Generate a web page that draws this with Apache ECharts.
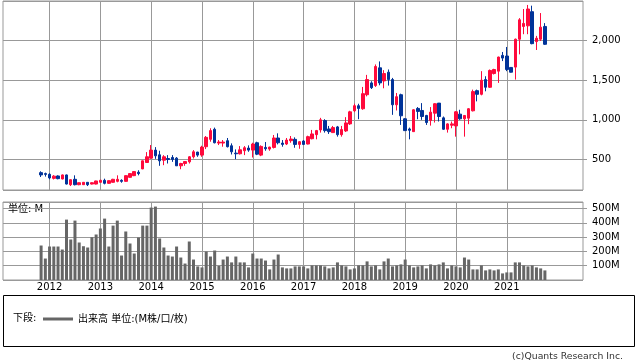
<!DOCTYPE html>
<html><head><meta charset="utf-8">
<script src="https://cdn.jsdelivr.net/npm/echarts@6/dist/echarts.min.js"></script>
<style>html,body{margin:0;padding:0;background:#fff}#c{width:638px;height:362px}</style>
</head><body><div id="c"></div>
<script>
// axis months: Feb 2011 .. Jul 2022 (138 monthly slots); data from Nov 2011 .. Oct 2021
const axisStart = [2011, 2];
const axisMonths = 138;
const dataStart = [2011, 11];
const yearLabels = ['2012','2013','2014','2015','2016','2017','2018','2019','2020','2021'];

const opens = [334,322,313,262,292,254,305,182,250,182,
182,212,190,190,212,237,199,212,224,237,
224,275,296,339,381,462,517,618,559,491,
512,525,517,420,449,470,534,593,555,661,
754,881,707,707,737,673,580,572,610,644,
618,711,555,652,631,652,771,707,695,737,
754,690,733,695,762,813,873,991,885,839,
911,813,860,949,1114,1178,1140,1317,1466,1432,
1656,1491,1601,1508,1190,1317,1013,885,851,1144,
1118,1055,991,1084,1211,1025,881,932,923,1072,
1013,1021,1114,1368,1322,1508,1411,1584,1614,1813,
1805,1661,1665,2017,2178,2186,2364,1987,2017,2178];
const closes = [305,312,267,290,258,305,190,245,182,207,
212,182,207,229,237,199,233,250,250,224,
296,322,347,322,483,534,618,546,483,534,
500,500,420,449,474,534,597,555,656,779,
864,711,720,720,661,597,572,622,648,618,
695,567,665,635,656,771,711,690,745,758,
690,724,690,788,822,864,1000,864,851,902,
813,877,961,1101,1178,1144,1330,1508,1406,1673,
1466,1584,1508,1190,1292,1051,864,868,1127,1106,
1042,966,1097,1203,1042,881,949,949,1101,1013,
1055,1140,1356,1322,1500,1411,1623,1635,1792,1779,
1635,1601,2017,2262,2216,2398,1961,2029,2169,1953];
const lows = [279,284,250,248,250,250,185,165,173,175,
178,165,185,185,208,186,195,208,212,207,
220,270,290,300,378,458,510,508,420,428,
449,470,418,377,420,449,512,534,534,631,
724,703,682,661,652,563,504,563,555,597,
525,555,542,610,610,639,690,661,682,711,
648,635,682,690,754,754,839,839,822,839,
788,788,847,936,1097,1008,1127,1296,1389,1415,
1436,1398,1432,1063,1118,936,864,754,851,1008,
1000,936,927,966,979,873,839,894,788,1000,
788,945,1106,1233,1309,1360,1402,1572,1466,1741,
1614,1597,1508,1826,2080,2080,1953,1881,1995,1945];
const highs = [351,334,326,303,300,310,310,248,300,210,
215,215,212,232,245,258,237,256,300,250,
300,326,351,364,487,593,682,656,610,555,
555,555,530,458,478,542,618,597,673,796,
894,902,745,745,771,703,627,669,669,678,
711,724,678,720,661,809,830,745,771,796,
779,733,745,800,873,873,1025,1008,923,923,
923,923,1034,1114,1203,1203,1415,1567,1487,1699,
1737,1627,1635,1529,1339,1330,1021,902,1135,1161,
1211,1063,1161,1211,1211,1042,957,979,1110,1127,
1055,1148,1381,1381,1614,1550,1635,1644,1797,1856,
1919,1661,2025,2283,2398,2449,2440,2059,2347,2220];
const volumes = [241,150,234,234,234,213,422,283,415,262,
236,227,299,318,360,429,234,380,415,171,
339,255,185,297,380,380,506,513,290,227,
171,164,234,157,115,269,143,95,88,199,
164,206,99,143,164,123,164,123,123,88,
185,150,150,136,74,143,178,88,81,81,
95,95,95,81,102,102,102,95,81,88,
123,102,95,74,81,102,102,130,95,102,
74,130,150,95,102,109,143,102,88,95,
102,81,109,102,109,123,81,102,95,88,
157,143,74,74,102,67,74,67,74,46,
53,53,123,123,102,95,102,88,81,67];

const categories = [];
for (let i = 0; i < axisMonths; i++) {
  const m0 = axisStart[1] - 1 + i;
  const y = axisStart[0] + Math.floor(m0 / 12);
  const m = (m0 % 12) + 1;
  categories.push(y + '-' + (m < 10 ? '0' : '') + m);
}
const offset = (dataStart[0] - axisStart[0]) * 12 + (dataStart[1] - axisStart[1]);
const candleData = categories.map((c, i) => {
  const j = i - offset;
  return (j >= 0 && j < opens.length) ? [opens[j], closes[j], lows[j], highs[j]] : '-';
});
const volData = categories.map((c, i) => {
  const j = i - offset;
  return (j >= 0 && j < volumes.length) ? volumes[j] : '-';
});
const isYearTick = (idx, val) => String(val).slice(5) === '01' && yearLabels.indexOf(String(val).slice(0, 4)) >= 0;

const FONT = '"DejaVu Sans", "Noto Sans CJK JP", sans-serif';
const GRID = '#999';
const volName = '出来高 単位:(M株/口/枚)';

const chart = echarts.init(document.getElementById('c'), null, {renderer: 'canvas'});
chart.setOption({
  animation: false,
  textStyle: {fontFamily: FONT},
  grid: [
    {left: 3, top: 1, width: 580, height: 189, show: true, borderColor: GRID, borderWidth: 1},
    {left: 3, top: 202, width: 580, height: 78, show: true, borderColor: GRID, borderWidth: 1}
  ],
  xAxis: [
    {type: 'category', gridIndex: 0, data: categories, boundaryGap: false,
     axisLine: {show: false}, axisTick: {show: false}, axisLabel: {show: false},
     splitLine: {show: true, interval: isYearTick, lineStyle: {color: GRID, width: 1}}},
    {type: 'category', gridIndex: 1, data: categories, boundaryGap: false,
     axisLine: {show: false}, axisTick: {show: false},
     axisLabel: {show: true, interval: isYearTick, formatter: v => v.slice(0, 4), fontSize: 10, color: '#000', margin: 2, fontFamily: FONT},
     splitLine: {show: true, interval: isYearTick, lineStyle: {color: GRID, width: 1}}}
  ],
  yAxis: [
    {type: 'value', gridIndex: 0, position: 'right', min: 115, max: 2499, splitNumber: 5,
     axisLine: {show: false}, axisTick: {show: true, length: 4, lineStyle: {color: GRID}},
     axisLabel: {showMinLabel: false, showMaxLabel: false, fontSize: 10, color: '#000', margin: 9, fontFamily: FONT,
       formatter: v => v.toLocaleString('en-US')},
     splitLine: {show: true, lineStyle: {color: GRID, width: 1}}},
    {type: 'value', gridIndex: 1, position: 'right', min: 0, max: 545, splitNumber: 5,
     axisLine: {show: false}, axisTick: {show: true, length: 4, lineStyle: {color: GRID}},
     axisLabel: {showMinLabel: false, showMaxLabel: false, fontSize: 10, color: '#000', margin: 9, fontFamily: FONT,
       formatter: v => v + 'M'},
     splitLine: {show: true, lineStyle: {color: GRID, width: 1}}}
  ],
  legend: {
    data: [{name: volName, icon: 'rect'}],
    left: 43, top: 314, itemWidth: 30, itemHeight: 3, padding: 0, selectedMode: false,
    textStyle: {fontSize: 10, color: '#000', fontFamily: FONT}
  },
  series: [
    {type: 'candlestick', name: '株価', xAxisIndex: 0, yAxisIndex: 0, data: candleData, barWidth: 3,
     itemStyle: {color: '#ff0a3c', color0: '#003399', borderColor: '#ff0a3c', borderColor0: '#003399', borderWidth: 1}},
    {type: 'bar', name: volName, xAxisIndex: 1, yAxisIndex: 1, data: volData, barWidth: 3,
     itemStyle: {color: '#666'}}
  ],
  graphic: [
    {type: 'rect', shape: {x: 3.5, y: 295.5, width: 631, height: 51}, style: {fill: 'none', stroke: '#000', lineWidth: 1}, silent: true},
    {type: 'text', x: 13, y: 318, style: {text: '下段:', font: '10px ' + FONT, fill: '#000', verticalAlign: 'middle'}},
    {type: 'text', x: 8, y: 209, style: {text: '単位: M', font: '10px ' + FONT, fill: '#000', verticalAlign: 'middle', backgroundColor: '#fff'}},
    {type: 'text', x: 623, y: 357, style: {text: '(c)Quants Research Inc.', font: '9.3px ' + FONT, fill: '#333', align: 'right', verticalAlign: 'middle'}}
  ]
});
</script></body></html>
